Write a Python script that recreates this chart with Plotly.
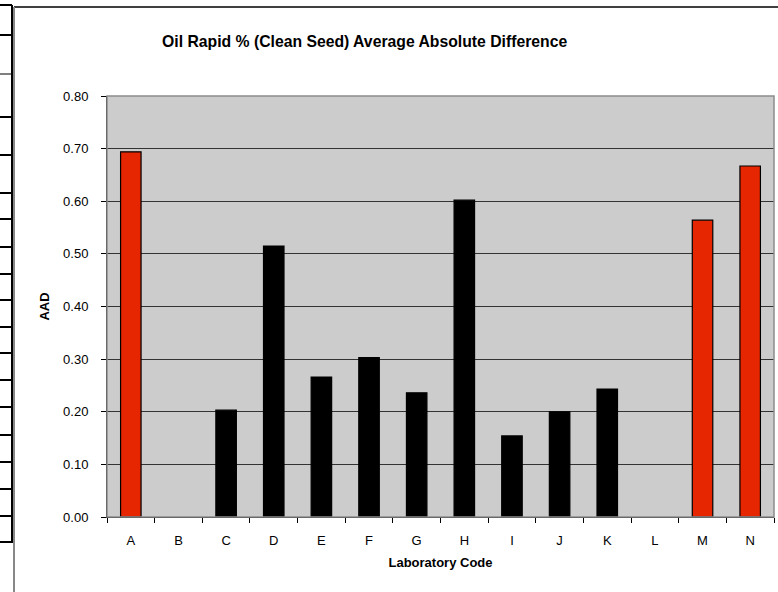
import plotly.graph_objects as go

# laboratory codes and average absolute difference values
labs = ['A', 'B', 'C', 'D', 'E', 'F', 'G', 'H', 'I', 'J', 'K', 'L', 'M', 'N']
aad = [0.694, None, 0.203, 0.515, 0.266, 0.303, 0.236, 0.602, 0.154, 0.200, 0.243, None, 0.564, 0.667]
flagged = ['A', 'M', 'N']

y_ticks = [0.0, 0.1, 0.2, 0.3, 0.4, 0.5, 0.6, 0.7, 0.8]

W, H = 778, 592
L, R, T, B = 107, 4, 96, 75
pw, ph = W - L - R, H - T - B


def px_x(x):
    return (x - L) / pw


def px_y(y):
    return (H - B - y) / ph


bar_colors = ['#E52600' if c in flagged else '#000000' for c in labs]

fig = go.Figure()

fig.add_trace(go.Bar(
    x=labs,
    y=aad,
    marker=dict(color=bar_colors, line=dict(color='#000000', width=1.2)),
    hovertemplate='Lab: %{x}<br>AAD: %{y:.2f}<extra></extra>'
))

# frame of the chart area and the clipped table on the left
shapes = [
    dict(type='line', xref='paper', yref='paper', x0=px_x(14), x1=px_x(778), y0=px_y(7), y1=px_y(7),
         line=dict(color='#000000', width=1.5)),
    dict(type='line', xref='paper', yref='paper', x0=px_x(14), x1=px_x(14), y0=px_y(7), y1=px_y(592),
         line=dict(color='#888888', width=2)),
    dict(type='line', xref='paper', yref='paper', x0=px_x(12), x1=px_x(12), y0=px_y(5), y1=px_y(543),
         line=dict(color='#000000', width=2)),
]
table_rows = [5, 35, 117, 155, 193, 219, 247, 274, 300, 327, 353, 380, 407, 435, 462, 489, 516, 542]
for ry in table_rows:
    shapes.append(dict(type='line', xref='paper', yref='paper', x0=px_x(0), x1=px_x(12),
                       y0=px_y(ry), y1=px_y(ry), line=dict(color='#000000', width=2)))
shapes.append(dict(type='line', xref='paper', yref='paper', x0=px_x(0), x1=px_x(12),
                   y0=px_y(74), y1=px_y(74), line=dict(color='#000000', width=1)))

fig.update_layout(
    width=W,
    height=H,
    margin=dict(l=L, r=R, t=T, b=B, pad=0),
    paper_bgcolor='white',
    plot_bgcolor='#CCCCCC',
    font=dict(family='Arial, Liberation Sans, sans-serif', size=13, color='#000000'),
    showlegend=False,
    bargap=0.57,
    shapes=shapes,
    annotations=[dict(
        text='<b>Oil Rapid % (Clean Seed) Average Absolute Difference</b>',
        xref='paper', yref='paper', x=px_x(364), y=px_y(41),
        xanchor='center', yanchor='middle', showarrow=False,
        font=dict(size=15.75)
    )],
    xaxis=dict(
        type='category',
        categoryorder='array',
        categoryarray=labs,
        title=dict(text='<b>Laboratory Code</b>', font=dict(size=13), standoff=11),
        ticks='outside',
        tickson='boundaries',
        ticklen=5,
        tickcolor='#000000',
        ticklabelstandoff=11,
        showline=True,
        linecolor='#000000',
        linewidth=1,
        showgrid=False,
        mirror=False,
    ),
    yaxis=dict(
        range=[0, 0.8],
        tickvals=y_ticks,
        tickformat='.2f',
        title=dict(text='<b>AAD</b>', font=dict(size=13), standoff=10),
        ticks='outside',
        ticklen=5,
        tickcolor='#000000',
        ticklabelstandoff=10,
        showline=True,
        linecolor='#000000',
        linewidth=1,
        showgrid=True,
        gridcolor='#333333',
        gridwidth=1,
        zeroline=False,
    ),
)

# grey border on the top and right of the plot area
fig.add_shape(type='rect', xref='paper', yref='paper', x0=0, x1=1, y0=0, y1=1,
              line=dict(color='#8C8C8C', width=1.5), layer='above')

fig.write_html('out.html', config={'displayModeBar': False},
               post_script="document.body.style.margin='0';")
